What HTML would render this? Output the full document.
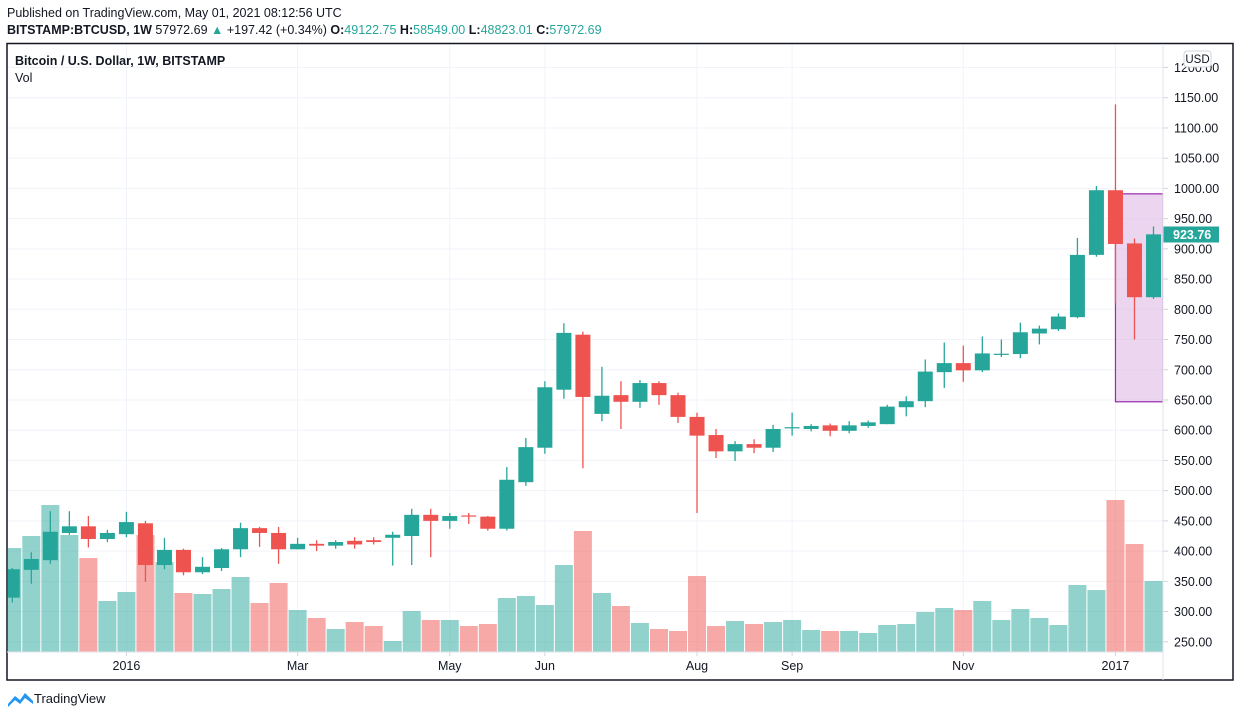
<!DOCTYPE html>
<html><head><meta charset="utf-8"><style>
body{margin:0;background:#fff;width:1240px;height:717px;overflow:hidden;font-family:"Liberation Sans",sans-serif}
svg{position:absolute;left:0;top:0}
text{font-family:"Liberation Sans",sans-serif}
</style></head><body>
<svg id="c" width="1240" height="717">
<defs><clipPath id="plot"><rect x="8" y="44" width="1155" height="608"/></clipPath></defs>
<text x="7" y="17" font-size="12.5" fill="#131722">Published on TradingView.com, May 01, 2021 08:12:56 UTC</text>
<text x="7" y="34" font-size="12.5" fill="#131722"><tspan font-weight="bold">BITSTAMP:BTCUSD, 1W</tspan> 57972.69 <tspan fill="#26a69a">▲</tspan> +197.42 (+0.34%) <tspan font-weight="bold">O:</tspan><tspan fill="#26a69a">49122.75</tspan> <tspan font-weight="bold">H:</tspan><tspan fill="#26a69a">58549.00</tspan> <tspan font-weight="bold">L:</tspan><tspan fill="#26a69a">48823.01</tspan> <tspan font-weight="bold">C:</tspan><tspan fill="#26a69a">57972.69</tspan></text>
<g id="grid"></g>
<g clip-path="url(#plot)">
<g id="vol"></g>
<rect id="zone" fill="#e1bee7" fill-opacity="0.65" stroke="#9c27b0" stroke-width="1.2"></rect>
<g id="candles"></g>
</g>
<g id="axis"></g>
<rect x="7" y="43.5" width="1226" height="636.5" fill="none" stroke="#131722" stroke-width="1.5"/>
<line x1="1163" y1="44" x2="1163" y2="680" stroke="#e0e3eb"/>
<line x1="7" y1="652" x2="1163" y2="652" stroke="#e0e3eb"/>
<text x="15" y="65" font-size="12.5" font-weight="bold" fill="#131722">Bitcoin / U.S. Dollar, 1W, BITSTAMP</text>
<text x="15" y="82" font-size="12.5" fill="#131722">Vol</text>
<g><rect x="1184" y="51" width="27" height="16" rx="3" fill="#fff" stroke="#d1d4dc"/><text x="1197.5" y="63" font-size="11.5" text-anchor="middle" fill="#131722">USD</text></g>
<g><path d="M8,704 l7,-8 l5,4 l5,-7 l8,8 l0,3 l-8,-6 l-5,6 l-5,-4 l-7,7z" fill="#2196f3"/><text x="34" y="703" font-size="13" fill="#131722">TradingView</text></g>
</svg>
<script>
const opens=[323,369,385,430,441,420,428,446,377,402,365,372,403,438,430,403,412,409,417,418,422,425,460,450,459,457,437,514,571,667,758,627,658,647,678,658,622,592,565,577,571,603,602,608,599,607,610,638,648,696,711,699,726,726,760,767,787,890,997,909,820];
const highs=[372,398,466,466,458,435,465,450,422,404,390,405,447,440,440,422,418,418,423,423,432,470,470,463,463,458,539,587,681,777,763,705,681,683,681,662,629,602,582,585,609,629,610,611,615,616,642,656,717,745,740,755,750,778,773,793,918,1004,1139,917,937];
const lows=[315,346,379,427,406,415,423,349,370,360,362,367,390,407,379,403,400,404,404,411,376,377,390,437,445,434,434,508,561,652,537,615,602,637,642,612,463,554,549,562,564,591,598,590,595,604,610,623,638,670,680,696,721,719,742,764,785,887,810,750,817];
const closes=[370,387,432,441,420,430,448,377,402,365,374,403,438,430,403,412,409,415,411,415,427,460,450,458,457,437,518,572,671,761,655,657,647,678,658,622,591,565,577,571,602,605,607,599,608,613,639,648,697,711,699,727,726.5,762,768,788,890,997,908,820,924];
const volumes=[104,116,147,117,94,51,60,117,90,59,58,63,75,49,69,42,34,23,30,26,11,41,32,32,26,28,54,56,47,87,121,59,46,29,23,21,76,26,31,28,30,32,22,21,21,19,27,28,40,44,42,51,32,43,34,27,67,62,152,108,71];
const priceTicks=[250,300,350,400,450,500,550,600,650,700,750,800,850,900,950,1000,1050,1100,1150,1200];
const timeLabels=["2016","Mar","May","Jun","Aug","Sep","Nov","2017"];
const timeLabelIdx=[6,15,23,28,36,41,50,58];
const zonePrices=[991,647];
const zoneIdx=[58];
const lastPrice=923.76;

const NS="http://www.w3.org/2000/svg";
const x=i=>12.3+i*19.02;
const y=p=>67.5+(1200-p)*0.6045;
const yv=v=>652-v;
function mk(tag,attrs,parent){const e=document.createElementNS(NS,tag);for(const k in attrs)e.setAttribute(k,attrs[k]);parent.appendChild(e);return e;}
const grid=document.getElementById('grid'),axis=document.getElementById('axis');
priceTicks.forEach(p=>{
  const l=mk('line',{x1:7,x2:1163,y1:y(p),y2:y(p),stroke:'#f0f3fa'},grid);
  
  
  const t=mk('line',{x1:1163,x2:1168,y1:y(p),y2:y(p),stroke:'#d1d4dc'},axis);
  
  
  const tx=mk('text',{x:1174,y:y(p)+4.5,'font-size':12.5,fill:'#131722'},axis);
  tx.textContent=p.toFixed(2);
  
  
});
timeLabels.forEach((s,k)=>{
  const xi=x(timeLabelIdx[k]);
  const l=mk('line',{x1:xi,x2:xi,y1:44,y2:652,stroke:'#f0f3fa'},grid);
  
  
  const tk=mk('line',{x1:xi,x2:xi,y1:652,y2:656,stroke:'#d1d4dc'},axis);
  
  
  const t=mk('text',{x:xi,y:670,'font-size':12.5,'text-anchor':'middle',fill:'#131722'},axis);
  t.textContent=s;
  
  
});
const vg=document.getElementById('vol'),cg=document.getElementById('candles');
opens.forEach((o,i)=>{
  const c=closes[i],up=c>=o;
  const vb=mk('rect',{x:x(i)-9,y:yv(volumes[i]),width:18,height:volumes[i],fill:up?'#26a69a':'#ef5350','fill-opacity':0.5},vg);
  
  
  const col=up?'#26a69a':'#ef5350';
  const w=mk('line',{x1:x(i),x2:x(i),y1:y(highs[i]),y2:y(lows[i]),stroke:col,'stroke-width':1.3},cg);
  
  
  const top=y(Math.max(o,c)),bot=y(Math.min(o,c));
  const b=mk('rect',{x:x(i)-7.5,y:top,width:15,height:Math.max(1.2,bot-top),fill:col},cg);
  
  
});
const z=document.getElementById('zone');
z.setAttribute('x',x(zoneIdx[0]));z.setAttribute('width',1163-x(zoneIdx[0]));
z.setAttribute('y',y(zonePrices[0]));z.setAttribute('height',y(zonePrices[1])-y(zonePrices[0]));
const lb=mk('rect',{x:1163,y:y(lastPrice)-8,width:56,height:16,fill:'#26a69a'},axis);


const lt=mk('text',{x:1173,y:y(lastPrice)+4.5,'font-size':12.5,'font-weight':'bold',fill:'#fff'},axis);
lt.textContent=lastPrice.toFixed(2);


</script>
</body></html>
